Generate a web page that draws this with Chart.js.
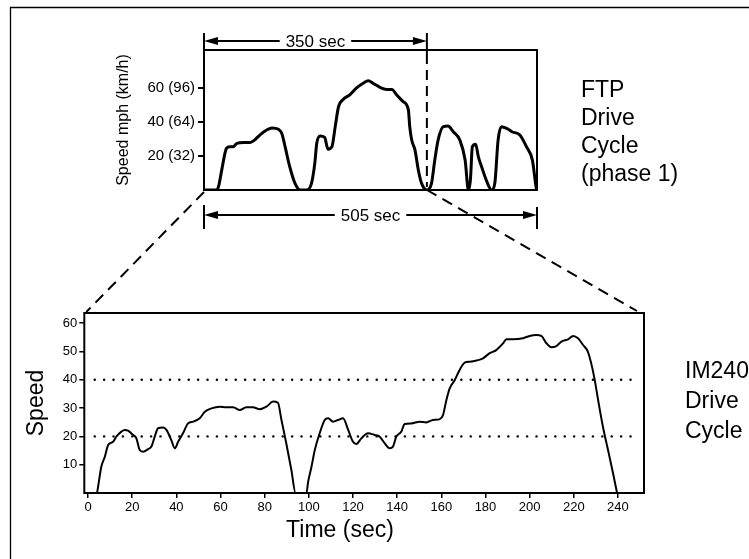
<!DOCTYPE html>
<html lang="en">
<head>
<meta charset="UTF-8">
<title>FTP / IM240 Drive Cycle</title>
<style>
  body { margin: 0; background: #fff; }
  #wrap { position: relative; width: 749px; height: 559px; overflow: hidden; }
  #wrap canvas { position: absolute; left: 0; top: 0; }
</style>
</head>
<body>
<div id="wrap">
  <canvas id="imChart" width="749" height="559"></canvas>
  <canvas id="ftpChart" width="749" height="559"></canvas>
</div>
<script src="https://cdn.jsdelivr.net/npm/chart.js"></script>
<script>
// FTP drive cycle, phase 1 (top panel)
var ftpTime = [0, 19, 22, 27, 32, 34, 39, 44, 50, 60, 70, 77, 85, 95, 103, 113, 118, 123, 130, 138,
    146, 156, 163, 168, 171, 176, 183, 188, 194, 199, 204, 211, 221, 231, 242, 249, 257, 267, 277, 285,
    292, 302, 310, 312, 315, 320, 325, 330, 338, 345, 350, 355, 363, 370, 378, 388, 396, 401, 404, 407,
    412, 416, 421, 428, 436, 441, 446, 451, 459, 467, 479, 489, 498, 504, 505];
var ftpSpeed = [0, 0, 2, 12, 22, 24.5, 25.5, 25.5, 27.5, 28, 28, 29.5, 32.5, 35.3, 36.5, 35.7, 33.3, 25.5, 13.7, 3.9,
    0, 0, 3.9, 15.7, 27.5, 31.8, 31, 24, 25.5, 37.3, 49, 53.3, 56, 60, 63, 64.3, 62.7, 60.4, 59.2, 59.2,
    56, 52, 47, 37.3, 29.4, 23.5, 11.8, 3.9, 0, 3.9, 17.6, 29.4, 37.3, 37.6, 34.3, 29.4, 17.6, 0, 6, 25.5,
    27, 19.6, 13.7, 5.9, 0, 3.9, 29.4, 37.3, 36.3, 34.3, 32.4, 25.5, 17.6, 1, 0];
var ftpTickValues = [20, 40, 60];
var ftpTickLabels = ['20 (32)', '40 (64)', '60 (96)'];
var ftpTotal = 505;     // 505 sec
var ftpSplit = 338;     // end of the 350 sec part, as drawn
var ftpCaption = ['FTP', 'Drive', 'Cycle', '(phase 1)'];

// IM240 drive cycle (bottom panel)
var imTime = [0, 4, 4.5, 6, 7.6, 9.1, 11.3, 12.8, 15.1, 16.6, 18.1, 20.4, 21.9, 23.4, 24.9, 27.2, 28.7, 30.2, 31.7, 34,
    35.5, 37.7, 39.3, 40.8, 43, 45.3, 47.6, 50.6, 52.9, 55.9, 59.6, 62.7, 65.7, 68.7, 71.7, 74.7, 77.7, 80.8, 83.8, 86,
    87.6, 89.8, 92.1, 94, 98.9, 99.7, 101.2, 102.7, 104.9, 107.2, 108.7, 111, 113.2, 115.5, 117.8, 120, 121.5, 123.8, 126.8, 129.8,
    132.1, 134.4, 136.6, 138.1, 139.6, 141.9, 143.4, 146.4, 150.2, 153.2, 156.2, 159.3, 160.8, 162.3, 163.8, 166.1, 168.3, 170.6, 172.9, 175.9,
    178.9, 181.9, 184.9, 188, 189.5, 192.5, 197, 200, 203, 205.3, 207.6, 209.8, 212.1, 214.4, 217.4, 219.7, 221.9, 224.2, 226.4, 227.9,
    229.5, 231, 233.2, 235.5, 237.8, 239.6];
var imSpeed = [0, 0, 2, 9.3, 12.8, 17, 18.1, 19.9, 21.7, 22.3, 22, 20.5, 19.3, 15.2, 14.6, 15.5, 16.4, 19.9, 22.9, 23.1,
    22.3, 18.7, 15.8, 18.1, 21.1, 24.6, 25.2, 26.4, 28.7, 29.9, 30.5, 30.3, 30.3, 29.3, 30.3, 30.3, 29.6, 30.5, 32.3, 31.9,
    25.8, 17.5, 8.1, 0, 0, 4, 9.3, 15.2, 21.1, 25.8, 26.4, 25.2, 25.8, 26.4, 22.3, 18.1, 17.3, 19.3, 21.1, 20.5,
    19.9, 17.5, 15.8, 16.4, 19.9, 21.7, 24.4, 24.6, 25.2, 24.9, 25.8, 26.1, 27.6, 32.9, 37, 39.9, 43.5, 46.1, 46.4, 46.8,
    47.6, 49.4, 50.5, 52.9, 54.3, 54.3, 54.7, 55.5, 55.8, 55.5, 52.9, 51.5, 51.9, 53.5, 54.3, 55.5, 54.7, 52.3, 49.9, 45.8,
    39.9, 32.9, 23.4, 15.2, 6.9, 0];
var imSpeedTicks = [10, 20, 30, 40, 50, 60];
var imTimeTicks = [0, 20, 40, 60, 80, 100, 120, 140, 160, 180, 200, 220, 240];
var imRefSpeeds = [20, 40];
var imRefTime = [3, 248.5];
var imCaption = ['IM240', 'Drive', 'Cycle'];

var FONT = '"Liberation Sans", Arial, Helvetica, sans-serif';
Chart.defaults.font.family = FONT;
Chart.defaults.color = '#000';

function toPoints(xs, ys) {
    return xs.map(function (v, i) { return { x: v, y: ys[i] }; });
}

function head(ctx, x, y, dir) {
    ctx.beginPath();
    ctx.moveTo(x, y);
    ctx.lineTo(x - dir * 14, y - 4);
    ctx.lineTo(x - dir * 14, y + 4);
    ctx.closePath();
    ctx.fill();
}

function hArrow(ctx, xa, xb, y, text) {
    ctx.font = '17px ' + FONT;
    var w = ctx.measureText(text).width;
    var cx = (xa + xb) / 2;
    ctx.lineWidth = 2;
    ctx.beginPath();
    ctx.moveTo(xa + 8, y); ctx.lineTo(cx - w / 2 - 6, y);
    ctx.moveTo(cx + w / 2 + 6, y); ctx.lineTo(xb - 8, y);
    ctx.stroke();
    head(ctx, xa, y, -1);
    head(ctx, xb, y, 1);
    ctx.textAlign = 'center';
    ctx.textBaseline = 'middle';
    ctx.fillText(text, cx, y + 1);
}

function seg(ctx, x1, y1, x2, y2, dash) {
    ctx.setLineDash(dash || []);
    ctx.beginPath();
    ctx.moveTo(x1, y1);
    ctx.lineTo(x2, y2);
    ctx.stroke();
    ctx.setLineDash([]);
}

// frame, captions for the lower panel
var imDecor = {
    id: 'imDecor',
    beforeDraw: function (chart) {
        var ctx = chart.ctx;
        ctx.save();
        ctx.strokeStyle = '#000';
        ctx.lineWidth = 1.3;
        ctx.beginPath();
        ctx.moveTo(10.5, chart.height);
        ctx.lineTo(10.5, 7.5);
        ctx.lineTo(chart.width, 7.5);
        ctx.stroke();
        ctx.restore();
    },
    afterDraw: function (chart) {
        var ctx = chart.ctx, a = chart.chartArea;
        ctx.save();
        ctx.strokeStyle = '#000';
        ctx.fillStyle = '#000';
        ctx.lineWidth = 2;
        ctx.strokeRect(a.left, a.top, a.right - a.left, a.bottom - a.top);
        ctx.font = '23px ' + FONT;
        ctx.textAlign = 'center';
        ctx.textBaseline = 'alphabetic';
        ctx.fillText('Time (sec)', 340, 537);
        ctx.textAlign = 'left';
        imCaption.forEach(function (t, i) {
            ctx.fillText(t, a.right + 41, 378 + i * 30);
        });
        ctx.restore();
    }
};

var imChart = new Chart(document.getElementById('imChart'), {
    type: 'line',
    data: {
        datasets: [{
            data: toPoints(imTime, imSpeed),
            borderColor: '#000',
            borderWidth: 2,
            pointRadius: 0,
            cubicInterpolationMode: 'monotone'
        }].concat(imRefSpeeds.map(function (s) {
            return {
                data: imRefTime.map(function (t) { return { x: t, y: s }; }),
                borderColor: '#000',
                borderWidth: 2.4,
                borderDash: [0.1, 9.3],
                borderCapStyle: 'round',
                pointRadius: 0
            };
        }))
    },
    options: {
        responsive: false,
        animation: false,
        events: [],
        layout: { padding: { left: 22.6, top: 313, right: 105, bottom: 16.8 } },
        plugins: { legend: { display: false }, tooltip: { enabled: false } },
        scales: {
            x: {
                type: 'linear',
                min: -1.7,
                max: 251.8,
                afterBuildTicks: function (s) { s.ticks = imTimeTicks.map(function (v) { return { value: v }; }); },
                afterFit: function (s) { s.height = 49.2; },
                grid: { drawOnChartArea: false, tickLength: 5, color: '#000', lineWidth: 1.5 },
                border: { display: false },
                ticks: { font: { size: 13 }, padding: 2, maxRotation: 0, autoSkip: false }
            },
            y: {
                min: 0,
                max: 63.6,
                afterBuildTicks: function (s) { s.ticks = imSpeedTicks.map(function (v) { return { value: v }; }); },
                afterFit: function (s) { s.width = 61.7; },
                grid: { drawOnChartArea: false, tickLength: 5, color: '#000', lineWidth: 1.5 },
                border: { display: false },
                ticks: { font: { size: 13 }, padding: 2 },
                title: { display: true, text: 'Speed', font: { size: 23 }, padding: 0 }
            }
        }
    },
    plugins: [imDecor]
});

// frame, arrows, dashed links for the upper panel
var ftpDecor = {
    id: 'ftpDecor',
    afterDraw: function (chart) {
        var ctx = chart.ctx, a = chart.chartArea, x = chart.scales.x;
        var x0 = x.getPixelForValue(0), xs = x.getPixelForValue(ftpSplit), x1 = x.getPixelForValue(ftpTotal);
        var b = imChart.chartArea;
        ctx.save();
        ctx.strokeStyle = '#000';
        ctx.fillStyle = '#000';
        ctx.lineWidth = 2;
        ctx.strokeRect(a.left, a.top, a.right - a.left, a.bottom - a.top);

        // 350 sec
        var ya = a.top - 9;
        seg(ctx, x0, a.top - 17, x0, a.top);
        seg(ctx, xs, a.top - 17, xs, a.top + 4);
        seg(ctx, xs, a.top + 4, xs, a.bottom - 3, [10, 6]);
        hArrow(ctx, x0, xs, ya, '350 sec');

        // 505 sec
        var yb = a.bottom + 25;
        seg(ctx, x0, yb - 10, x0, yb + 14);
        seg(ctx, x1, yb - 8, x1, yb + 14);
        hArrow(ctx, x0, x1, yb, '505 sec');

        // links to the lower panel
        ctx.lineWidth = 2;
        seg(ctx, x0, a.bottom + 2, b.left + 2, b.top - 1, [11, 7]);
        seg(ctx, xs, a.bottom, b.right - 7, b.top - 2, [11, 7]);

        ctx.font = '23px ' + FONT;
        ctx.textAlign = 'left';
        ctx.textBaseline = 'alphabetic';
        ftpCaption.forEach(function (t, i) {
            ctx.fillText(t, a.right + 44, 97 + i * 28);
        });
        ctx.restore();
    }
};

var ftpChart = new Chart(document.getElementById('ftpChart'), {
    type: 'line',
    data: {
        datasets: [{
            data: toPoints(ftpTime, ftpSpeed),
            borderColor: '#000',
            borderWidth: 3,
            pointRadius: 0,
            cubicInterpolationMode: 'monotone'
        }]
    },
    options: {
        responsive: false,
        animation: false,
        events: [],
        layout: { padding: { left: 113.5, top: 50, right: 212, bottom: 369 } },
        plugins: { legend: { display: false }, tooltip: { enabled: false } },
        scales: {
            x: { type: 'linear', display: false, min: 0, max: ftpTotal },
            y: {
                min: 0,
                max: 82.4,
                afterBuildTicks: function (s) { s.ticks = ftpTickValues.map(function (v) { return { value: v }; }); },
                afterFit: function (s) { s.width = 90.5; },
                grid: { drawOnChartArea: false, tickLength: 6, color: '#000', lineWidth: 2 },
                border: { display: false },
                ticks: {
                    font: { size: 15 },
                    padding: 3,
                    callback: function (v) { return ftpTickLabels[ftpTickValues.indexOf(v)]; }
                },
                title: { display: true, text: 'Speed mph (km/h)', font: { size: 16 }, padding: 0 }
            }
        }
    },
    plugins: [ftpDecor]
});
</script>
</body>
</html>
